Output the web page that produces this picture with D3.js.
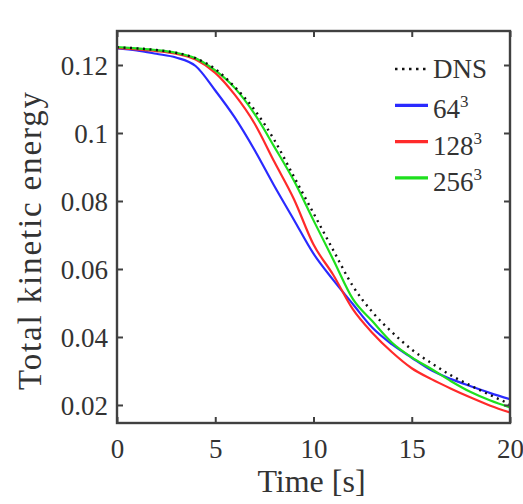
<!DOCTYPE html>
<html>
<head>
<meta charset="utf-8">
<script src="https://cdn.jsdelivr.net/npm/d3@7"></script>
<style>
  html, body { margin: 0; padding: 0; background: #fff; }
  svg { display: block; }
  svg text { font-family: "Liberation Serif", "Times New Roman", Tinos, Times, "DejaVu Serif", "Noto Serif", serif; fill: #333; }
</style>
</head>
<body>
<svg id="chart" width="523" height="504"></svg>
<script>
// ---- data ----
const time = [0,1,2,3,4,5,6,7,8,9,10,11,12,13,14,15,16,17,18,19,20];
const dns    = [0.1252,0.1249,0.1244,0.1236,0.1220,0.1188,0.1135,0.1068,0.0980,0.0872,0.0764,0.0656,0.0550,0.0473,0.0414,0.0363,0.0323,0.0287,0.0257,0.0229,0.0202];
const les64  = [0.1249,0.1243,0.1233,0.1222,0.1197,0.1125,0.1045,0.0950,0.0845,0.0745,0.0645,0.0568,0.0497,0.0427,0.0378,0.0339,0.0302,0.0276,0.0255,0.0235,0.0217];
const les128 = [0.1250,0.1246,0.1241,0.1233,0.1216,0.1177,0.1112,0.1028,0.0916,0.0806,0.0672,0.0583,0.0482,0.0412,0.0355,0.0308,0.0276,0.0248,0.0222,0.0198,0.0178];
const les256 = [0.1253,0.1249,0.1244,0.1236,0.1220,0.1184,0.1132,0.1056,0.0960,0.0860,0.0743,0.0628,0.0512,0.0446,0.0383,0.0340,0.0306,0.0270,0.0238,0.0213,0.0193];
const xTicks = [0,5,10,15,20];
const yTicks = [0.02,0.04,0.06,0.08,0.1,0.12];
const yTickLabels = ["0.02","0.04","0.06","0.08","0.1","0.12"];
const legendNames = ["DNS","64","128","256"];
const legendSup = ["","3","3","3"];
const xLabel = "Time [s]";
const yLabel = "Total kinetic energy";

// ---- layout ----
const svg = d3.select("#chart");
const L = 117, T = 31, R = 510, B = 423;
const x = d3.scaleLinear().domain([0,20]).range([L,R]);
const y = d3.scaleLinear().domain([0.0147,0.13]).range([B,T]);
const FONT = '"Liberation Serif", "Times New Roman", Tinos, Times, "DejaVu Serif", "Noto Serif", serif';

const series = [
  {name: legendNames[0], sup: legendSup[0], vals: dns,    color: "#111", width: 2.4, dash: "2,4.5"},
  {name: legendNames[1], sup: legendSup[1], vals: les64,  color: "#2a2aff", width: 2.2, dash: null},
  {name: legendNames[2], sup: legendSup[2], vals: les128, color: "#ff2a2a", width: 2.2, dash: null},
  {name: legendNames[3], sup: legendSup[3], vals: les256, color: "#1ee01e", width: 2.2, dash: null}
];

// lines (draw order: blue, red, green, dns on top)
const line = d3.line().x((d,i)=>x(time[i])).y(d=>y(d)).curve(d3.curveMonotoneX);
const g = svg.append("g");
[1,2,3,0].forEach(k => {
  const s = series[k];
  const p = g.append("path").datum(s.vals)
    .attr("d", line)
    .attr("fill","none")
    .attr("stroke", s.color)
    .attr("stroke-width", s.width);
  if (s.dash) p.attr("stroke-dasharray", s.dash);
});

// axes (ticks inward, box)
const axisColor = "#404040";
const tk = 6;
const axB = svg.append("g").attr("transform",`translate(0,${B})`)
  .call(d3.axisBottom(x).tickValues(xTicks).tickSize(-tk).tickPadding(16).tickFormat(d3.format("d")));
const axT = svg.append("g").attr("transform",`translate(0,${T})`)
  .call(d3.axisTop(x).tickValues(xTicks).tickSize(-tk).tickFormat(""));
const axL = svg.append("g").attr("transform",`translate(${L},0)`)
  .call(d3.axisLeft(y).tickValues(yTicks).tickSize(-tk).tickPadding(9).tickFormat((d,i)=>yTickLabels[i]));
const axR = svg.append("g").attr("transform",`translate(${R},0)`)
  .call(d3.axisRight(y).tickValues(yTicks).tickSize(-tk).tickFormat(""));
[axB,axT,axL,axR].forEach(a => {
  a.attr("font-family", FONT);
  a.select(".domain").remove();
  a.selectAll(".tick line").attr("stroke", axisColor).attr("stroke-width", 2);
  a.selectAll(".tick text").attr("font-size", 27).attr("fill", "#333").style("font-family", FONT);
});
axL.selectAll(".tick text").attr("dy","0.34em");
svg.append("rect").attr("x",L).attr("y",T).attr("width",R-L).attr("height",B-T)
  .attr("fill","none").attr("stroke",axisColor).attr("stroke-width",2.4);

// axis labels
svg.append("text").attr("x", (L+R)/2 - 2).attr("y", 492).attr("text-anchor","middle")
  .attr("font-size", 32).style("font-family", FONT).text(xLabel);
svg.append("text").attr("transform","translate(41,241) rotate(-90)").attr("text-anchor","middle")
  .attr("font-size", 33).attr("textLength", 298).attr("lengthAdjust", "spacing")
  .style("font-family", FONT).text(yLabel);

// legend
const lg = svg.append("g");
series.forEach((s,i) => {
  const yy = 69 + i*36.3;
  const ln = lg.append("line").attr("x1",395).attr("x2",428).attr("y1",yy).attr("y2",yy)
    .attr("stroke", s.color).attr("stroke-width", s.dash ? 2.6 : 3.2);
  if (s.dash) ln.attr("stroke-dasharray","2.5,4.5");
  const t = lg.append("text").attr("x",433).attr("y", yy + (i===0 ? 9 : 13))
    .attr("font-size",27).style("font-family", FONT).text(s.name);
  if (s.sup) t.append("tspan").attr("dy",-11).attr("font-size",17).text(s.sup);
});
</script>
</body>
</html>
